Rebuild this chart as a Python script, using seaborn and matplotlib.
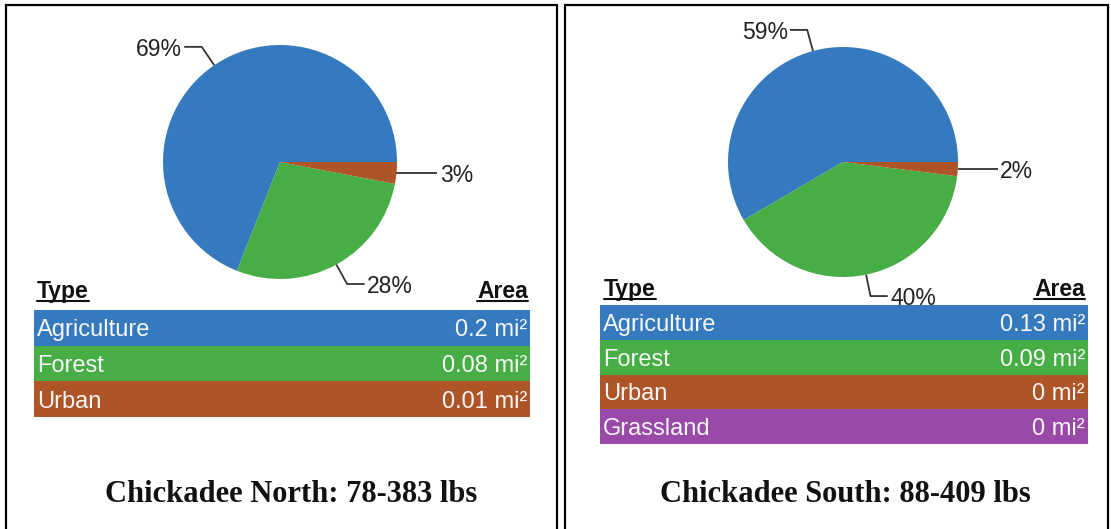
import numpy as np
import matplotlib
matplotlib.use("Agg")
import matplotlib.pyplot as plt
import seaborn as sns

# --- data -------------------------------------------------------------------
north_types = ["Agriculture", "Forest", "Urban"]
north_area = [0.2, 0.08, 0.01]          # mi²
north_pct = [69, 28, 3]
north_title = "Chickadee North: 78-383 lbs"

south_types = ["Agriculture", "Forest", "Urban", "Grassland"]
south_area = [0.13, 0.09, 0, 0]         # mi²
south_pct = [59, 40, 2, 0]
south_title = "Chickadee South: 88-409 lbs"

type_colors = {
    "Agriculture": "#3579be",
    "Forest": "#47ad45",
    "Urban": "#ad5526",
    "Grassland": "#9949a8",
}

# --- style ------------------------------------------------------------------
sns.set_theme(style="white")
plt.rcParams["font.family"] = ["Liberation Sans", "DejaVu Sans"]

W, H = 1111, 529
fig = plt.figure(figsize=(W / 100, H / 100), dpi=100, facecolor="white")

# full-figure pixel canvas for frames / headers / titles
canvas = fig.add_axes([0, 0, 1, 1])
canvas.set_xlim(0, W)
canvas.set_ylim(H, 0)
canvas.axis("off")


def px_axes(left, top, width, height):
    return fig.add_axes([left / W, 1 - (top + height) / H, width / W, height / H])


def draw_pie(cx, cy, radius, pct, types):
    half = 180
    ax = px_axes(cx - half, cy - half, 2 * half, 2 * half)
    ax.set_zorder(3)
    ax.patch.set_alpha(0)
    ax.pie(pct, colors=[type_colors[t] for t in types], startangle=0,
           counterclock=True, radius=1, wedgeprops={"linewidth": 0})
    lim = half / radius
    ax.set_xlim(-lim, lim)
    ax.set_ylim(-lim, lim)
    ax.set_aspect("equal")
    ax.axis("off")

    total = float(sum(pct))
    start = 0.0
    for p in pct:
        span = 360.0 * p / total
        if p > 0:
            theta = np.deg2rad(start + span / 2)
            c, s = np.cos(theta), np.sin(theta)
            side = 1 if c >= 0 else -1
            x0, y0 = c, s
            if abs(s) < 0.3:
                # nearly horizontal wedge: straight leader
                x1, y1 = 1.2 * c, s
            else:
                x1, y1 = 1.19 * c, 1.19 * s
            x2 = x1 + side * 0.15
            ax.plot([x0, x1, x2], [y0, y1, y1], color="#333333", lw=1.3,
                    clip_on=False, solid_capstyle="butt")
            ax.text(x2 + side * 0.02, y1, f"{p}%", ha="left" if side > 0 else "right",
                    va="center_baseline", fontsize=16.5, color="#222222")
        start += span


def draw_table(left, top, width, height, types, areas):
    ax = px_axes(left, top, width, height)
    n = len(types)
    sns.barplot(x=np.ones(n), y=types, hue=types, palette=[type_colors[t] for t in types],
                orient="h", width=1.0, saturation=1, linewidth=0, legend=False, ax=ax)
    ax.set_xlim(0, 1)
    ax.set_ylim(n - 0.5, -0.5)
    ax.axis("off")
    for i, (t, a) in enumerate(zip(types, areas)):
        ax.annotate(t, (0, i), xytext=(3, 0), textcoords="offset pixels",
                    ha="left", va="center_baseline", fontsize=17, color="#f7f7f7")
        ax.annotate(f"{a:g} mi²", (1, i), xytext=(-3, 0), textcoords="offset pixels",
                    ha="right", va="center_baseline", fontsize=17, color="#f7f7f7")


def header(x, y, s, ha):
    t = canvas.text(x, y, s, ha=ha, va="baseline", fontsize=16.5,
                    fontweight="bold", color="#111111")
    return t


# panel frames
for x0, x1 in [(6, 557), (565, 1108)]:
    canvas.plot([x0, x0, x1, x1], [H + 5, 5, 5, H + 5], color="black", lw=1.6,
                clip_on=False, solid_joinstyle="miter")

# left panel
draw_pie(280, 162, 117, north_pct, north_types)
draw_table(34, 310, 496, 107, north_types, north_area)
heads = [header(37, 298, "Type", "left"), header(528, 298, "Area", "right")]

# right panel
draw_pie(843, 162, 115, south_pct, south_types)
draw_table(600, 305, 488, 139, south_types, south_area)
heads += [header(604, 296, "Type", "left"), header(1085, 296, "Area", "right")]

title_font = dict(ha="center", va="center", fontsize=22, fontweight="bold",
                  family=["Liberation Serif", "DejaVu Serif"], color="#111111")
canvas.text(291, 494, north_title, **title_font)
canvas.text(845, 495, south_title, **title_font)

# underline the column headers
fig.canvas.draw()
renderer = fig.canvas.get_renderer()
inv = canvas.transData.inverted()
for t in heads:
    bb = t.get_window_extent(renderer)
    (xa, _), (xb, _) = inv.transform([[bb.x0, bb.y0], [bb.x1, bb.y0]])
    yb = t.get_position()[1] + 3
    canvas.plot([xa, xb], [yb, yb], color="#111111", lw=1.5, clip_on=False)

fig.savefig("out.png", dpi=100, facecolor="white")
